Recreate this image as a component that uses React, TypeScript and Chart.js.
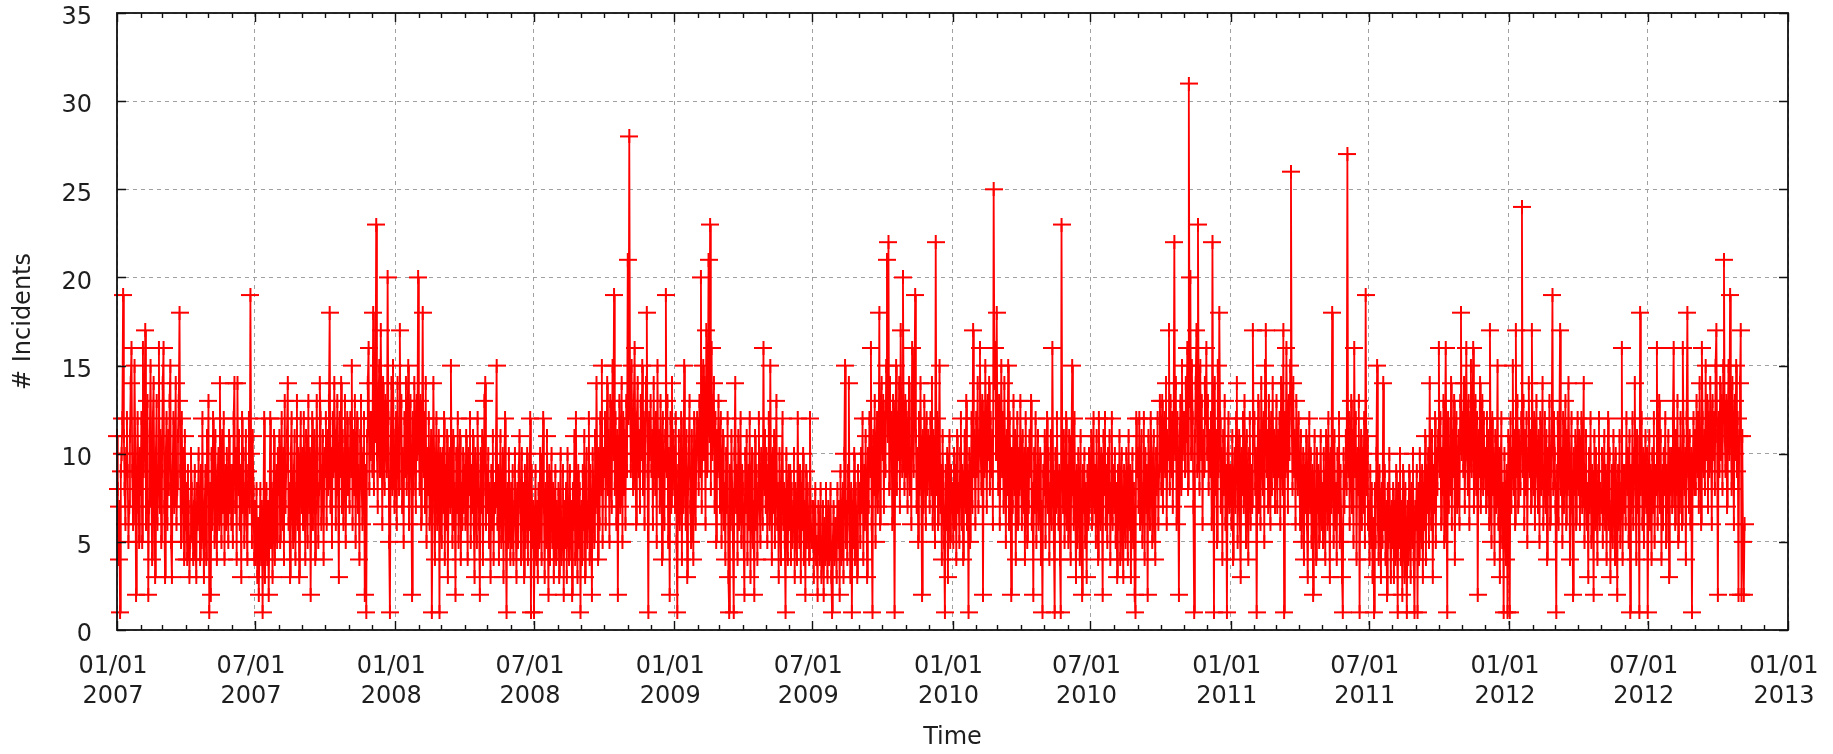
import React, { useEffect, useRef } from "react";
import { Chart, registerables } from "chart.js";

Chart.register(...registerables);

// Daily number of incidents, one value per day starting 2007-01-01 (month by month)
const incidents2007 = [
  11,8,4,7,1,9,10,12,19,11,8,6,10,12,9,5,7,11,14,16,9,6,8,15,10,2,7,12,9,5,10,
  8,12,5,16,9,11,17,6,10,13,2,7,11,15,9,4,12,14,8,3,10,13,6,9,16,7,11,5,
  9,14,16,7,3,10,12,6,11,8,13,15,5,3,9,12,7,10,14,6,8,11,13,18,9,5,12,7,10,4,11,
  6,8,4,9,7,3,5,10,8,6,4,7,9,5,3,8,6,10,7,4,9,5,12,6,3,7,9,4,11,8,
  13,1,8,2,10,6,12,9,5,11,7,4,9,10,6,14,8,5,11,7,12,4,9,6,10,8,5,11,7,9,6,
  9,5,12,14,7,10,4,14,8,11,6,9,3,12,7,10,5,8,11,6,4,9,12,7,19,10,5,11,8,4,
  7,4,8,3,6,2,5,8,4,7,1,6,12,3,5,8,4,7,2,6,12,5,8,3,7,11,4,6,9,5,10,
  8,11,5,9,12,6,10,4,13,7,9,11,14,6,8,3,10,12,7,5,9,11,4,8,13,6,10,3,9,12,7,
  10,6,12,8,4,11,9,5,13,7,10,2,8,12,6,9,11,4,7,13,10,5,8,14,12,6,9,11,4,10,
  9,12,6,11,8,13,18,7,10,5,12,9,14,11,6,10,13,8,3,12,9,14,7,11,6,10,13,5,9,12,8,
  10,7,12,9,15,6,11,8,13,5,10,12,7,9,4,11,13,8,6,10,12,2,9,1,11,14,16,8,12,10,
  12,9,18,8,14,11,23,10,7,13,15,9,17,12,6,14,10,8,13,11,9,20,12,5,1,10,14,8,15,11,7,
];

const incidents2008 = [
  9,12,6,14,10,8,17,11,13,7,10,5,12,9,14,8,11,15,6,10,13,9,2,12,8,14,11,7,13,10,20,
  11,8,13,6,10,18,9,12,7,14,5,10,8,12,6,9,11,1,7,14,10,4,9,12,6,8,11,1,10,
  8,5,10,7,12,4,9,6,11,3,8,10,7,15,9,5,11,6,8,2,10,7,12,5,9,11,4,8,6,10,7,
  9,6,11,7,4,10,8,12,5,9,7,11,6,3,10,8,5,12,9,6,2,10,7,11,4,8,13,14,6,9,
  7,10,5,8,3,9,6,11,4,8,7,10,15,6,9,4,8,11,5,7,10,3,9,12,6,1,8,5,10,7,4,
  8,5,9,4,7,10,6,3,8,5,9,11,7,4,10,6,8,3,9,5,7,10,4,8,6,12,1,9,5,7,
  1,6,9,4,7,3,8,5,10,6,4,9,12,7,3,8,5,11,6,2,9,4,7,10,5,8,3,6,9,4,7,
  5,8,3,7,10,4,6,9,2,7,5,8,3,10,6,4,9,5,7,2,8,6,11,4,12,7,3,9,5,8,1,
  7,4,9,6,11,3,8,10,5,7,12,4,9,6,2,10,8,5,11,7,14,9,4,10,6,12,8,15,5,10,
  9,12,6,10,14,8,11,5,13,9,7,15,10,19,8,12,6,11,2,9,13,7,10,14,5,12,8,11,6,13,9,
  21,12,28,14,9,15,11,8,13,16,10,6,12,14,9,11,7,13,10,15,8,12,6,11,14,18,9,1,12,10,
  13,9,11,6,14,10,8,12,5,15,9,11,7,13,10,4,12,8,6,11,19,9,13,5,10,2,12,7,14,8,11,
];

const incidents2009 = [
  10,7,12,5,1,9,11,6,8,12,4,10,7,15,9,6,11,3,8,10,13,7,5,11,9,4,12,8,6,10,12,
  11,8,13,9,20,7,12,15,10,14,6,17,9,12,21,11,23,8,16,10,13,14,7,12,5,11,9,13,
  10,7,12,5,9,11,6,8,4,10,7,12,3,1,9,6,11,8,5,1,10,14,7,9,4,11,6,8,12,5,9,
  8,5,2,10,7,11,4,9,6,12,3,8,10,5,7,2,11,6,9,4,8,12,7,5,10,9,6,16,8,11,
  7,10,5,9,12,6,15,8,4,10,7,11,5,9,13,6,8,3,10,7,4,9,12,6,8,5,1,10,7,4,9,
  6,9,4,8,5,7,10,3,8,6,4,12,7,5,9,3,8,6,10,4,7,2,9,5,8,6,4,12,7,5,
  5,7,3,6,8,4,5,2,7,6,4,8,3,5,7,2,6,4,8,5,3,7,4,6,8,3,1,5,7,4,6,
  6,3,8,5,7,2,9,4,6,8,3,10,15,5,7,4,9,14,6,3,8,1,7,5,10,4,8,6,3,9,7,
  8,5,10,7,12,4,9,6,11,8,3,10,7,12,9,16,6,1,11,8,13,5,10,12,7,9,18,6,11,14,
  10,13,7,12,9,15,21,11,22,8,14,10,12,6,13,9,1,11,15,8,12,10,14,7,17,11,9,20,12,8,13,
  9,12,7,11,14,8,10,6,16,12,9,13,19,11,7,10,5,12,8,14,9,2,11,7,13,10,6,12,8,11,
  10,7,12,8,14,6,11,9,5,22,8,12,6,10,15,7,9,4,11,8,5,1,9,6,10,3,8,11,5,9,7,
];

const incidents2010 = [
  8,5,10,6,9,4,11,7,8,5,10,12,6,9,4,8,11,7,13,6,9,1,10,5,8,12,7,17,9,11,6,
  12,9,14,7,11,16,10,8,13,2,12,9,15,11,7,13,10,14,8,12,9,11,6,25,14,16,10,18,
  11,8,13,6,10,15,9,12,7,14,10,5,11,8,15,6,12,9,2,10,7,13,8,11,4,9,12,6,10,8,13,
  9,6,11,7,10,4,12,8,5,10,7,11,9,13,6,8,2,10,7,12,5,9,11,6,8,10,4,7,1,9,
  8,11,5,9,12,7,10,4,8,11,6,16,9,5,1,10,7,12,8,6,9,4,1,23,10,7,11,5,8,12,6,
  9,5,11,7,4,10,15,8,6,12,7,3,9,5,10,8,4,11,6,2,9,7,10,5,8,3,9,6,10,7,
  8,11,6,10,12,7,9,5,11,8,4,12,9,6,10,7,2,11,8,12,6,9,5,10,7,11,4,8,12,6,9,
  7,10,5,8,3,9,6,11,4,8,10,6,3,9,7,5,10,8,4,11,6,9,3,7,10,5,8,2,1,12,9,
  10,7,12,6,9,11,5,8,12,4,10,7,9,2,11,8,6,12,10,5,9,11,7,4,10,8,12,6,9,13,
  11,8,13,7,10,12,9,14,6,11,10,17,8,13,9,12,7,11,22,10,14,6,12,9,2,11,13,8,15,10,12,
  12,9,14,11,16,8,31,13,20,10,15,12,7,1,11,14,17,9,23,12,8,15,10,13,6,11,9,14,12,16,
  10,13,8,11,9,12,6,22,10,1,14,8,11,5,15,9,18,12,7,10,4,11,8,13,6,9,1,10,12,7,9,
];

const incidents2011 = [
  9,6,11,4,8,10,7,12,14,5,9,11,6,3,10,8,12,7,13,9,5,11,8,4,10,12,6,9,7,17,11,
  12,8,10,1,9,13,7,11,6,14,10,8,12,5,15,17,9,11,7,13,10,6,12,8,14,9,11,7,
  10,13,7,11,9,12,6,14,10,8,17,1,12,9,16,11,7,13,10,15,26,12,8,14,9,11,6,13,10,8,12,
  9,6,11,5,8,10,4,9,7,11,6,3,8,12,7,10,5,9,2,8,11,6,4,10,7,9,5,8,11,6,
  8,5,10,7,4,11,9,6,12,8,3,10,7,18,9,5,11,6,8,4,10,7,12,5,9,6,3,1,10,7,9,
  11,8,27,9,12,6,10,13,7,11,5,16,9,12,4,10,8,13,1,9,11,6,10,7,12,5,19,8,11,6,
  7,4,9,5,8,3,6,1,8,5,10,15,6,4,9,7,3,8,5,14,6,9,4,7,2,8,5,10,6,3,7,
  5,8,3,7,4,9,6,1,8,5,10,4,7,2,9,6,3,8,5,1,7,4,9,6,3,8,5,10,4,1,7,
  6,9,1,8,4,10,7,5,9,3,8,6,11,4,9,7,10,5,14,8,6,11,3,9,7,12,5,10,8,11,
  16,9,12,6,10,8,13,5,11,16,9,1,12,7,10,8,14,6,11,9,13,4,10,12,7,9,11,6,13,18,10,
  12,9,14,7,11,16,10,8,13,6,12,15,9,11,16,7,10,13,8,12,2,11,9,14,7,10,13,8,12,9,
  10,7,12,8,11,6,17,9,5,12,8,10,4,11,7,9,15,6,10,3,9,12,5,8,1,10,7,4,9,1,11,
];

const incidents2012 = [
  9,1,12,7,10,15,8,11,6,17,9,13,7,11,10,8,12,24,9,13,6,11,8,12,5,10,14,9,11,7,17,
  11,8,12,6,10,13,9,7,11,5,12,8,10,14,6,9,12,7,11,4,10,8,13,6,9,11,19,8,12,
  10,7,1,9,12,6,11,17,8,10,5,12,7,9,13,6,11,8,14,10,4,9,12,7,2,10,8,11,6,9,12,
  8,11,6,9,12,7,10,14,5,9,11,6,8,3,10,7,12,5,9,8,2,11,6,10,7,4,9,12,6,8,
  7,10,5,8,11,6,9,4,8,12,6,10,3,7,9,5,11,8,4,10,7,2,9,6,11,5,8,16,4,9,7,
  9,6,12,8,10,5,11,1,9,7,12,6,10,14,8,4,11,7,9,1,18,8,12,6,10,5,9,11,7,10,
  1,8,11,6,9,4,10,7,12,5,9,8,16,6,10,13,7,11,4,9,6,10,8,12,5,9,7,11,3,10,8,
  10,7,12,16,9,6,11,8,13,5,10,7,12,9,6,16,11,8,10,4,12,18,9,7,11,6,10,1,9,12,8,
  11,8,13,9,12,7,14,10,6,16,12,9,11,8,15,10,13,7,12,9,14,11,6,13,10,12,8,15,17,11,
  2,12,9,14,10,13,8,15,21,11,9,13,7,12,15,10,19,12,8,14,11,6,13,10,15,9,12,2,11,14,17,
  2,11,5,2,6,
];

// Axis definitions (x in days since 2007-01-01)
const xMaxDay = 2192;
const majorTickDays = [0, 181, 365, 547, 731, 912, 1096, 1277, 1461, 1642, 1826, 2008, 2192];
const majorTickLabels = [
  ["01/01", "2007"], ["07/01", "2007"], ["01/01", "2008"], ["07/01", "2008"],
  ["01/01", "2009"], ["07/01", "2009"], ["01/01", "2010"], ["07/01", "2010"],
  ["01/01", "2011"], ["07/01", "2011"], ["01/01", "2012"], ["07/01", "2012"],
  ["01/01", "2013"],
];
const yTickValues = [0, 5, 10, 15, 20, 25, 30, 35];

const FONT = "'DejaVu Sans', 'Noto Sans', sans-serif";
const TEXT = "#1e1e1e";

function monthStartDays(): number[] {
  const out: number[] = [];
  const base = Date.UTC(2007, 0, 1);
  for (let y = 2007; y <= 2013; y++) {
    for (let m = 0; m < 12; m++) {
      const d = Math.round((Date.UTC(y, m, 1) - base) / 86400000);
      if (d <= xMaxDay) out.push(d);
    }
  }
  return out;
}

function makeCross(): HTMLCanvasElement {
  const c = document.createElement("canvas");
  c.width = 18;
  c.height = 14;
  const g = c.getContext("2d")!;
  g.strokeStyle = "#ff0000";
  g.lineWidth = 2;
  g.beginPath();
  g.moveTo(0, 7);
  g.lineTo(18, 7);
  g.moveTo(9, 0);
  g.lineTo(9, 14);
  g.stroke();
  return c;
}

export default function App() {
  const ref = useRef<HTMLCanvasElement | null>(null);

  useEffect(() => {
    if (!ref.current) return;
    const all = [
      ...incidents2007, ...incidents2008, ...incidents2009,
      ...incidents2010, ...incidents2011, ...incidents2012,
    ];
    const points = all.map((v, i) => ({ x: i, y: v }));
    const minorDays = monthStartDays();
    const cross = makeCross();

    const framePlugin = {
      id: "gnuFrame",
      afterDatasetsDraw(chart: any) {
        const { ctx, chartArea, scales } = chart;
        const { left, right, top, bottom } = chartArea;
        const xs = scales.x;
        const ys = scales.y;
        ctx.save();
        ctx.strokeStyle = "#111";
        ctx.lineWidth = 1.4;
        ctx.beginPath();
        minorDays.forEach((d: number) => {
          const px = Math.round(xs.getPixelForValue(d)) + 0.5;
          const len = majorTickDays.includes(d) ? 9 : 5;
          ctx.moveTo(px, bottom);
          ctx.lineTo(px, bottom - len);
          ctx.moveTo(px, top);
          ctx.lineTo(px, top + len);
        });
        yTickValues.forEach((v) => {
          const py = Math.round(ys.getPixelForValue(v)) + 0.5;
          ctx.moveTo(left, py);
          ctx.lineTo(left + 9, py);
          ctx.moveTo(right, py);
          ctx.lineTo(right - 9, py);
        });
        ctx.stroke();
        ctx.lineWidth = 1.8;
        ctx.strokeRect(left, top, right - left, bottom - top);
        ctx.restore();
      },
    };

    const noPad = (s: any) => {
      s.paddingTop = 0;
      s.paddingBottom = 0;
      s.paddingLeft = 0;
      s.paddingRight = 0;
    };

    const chart = new Chart(ref.current, {
      type: "line",
      data: {
        datasets: [
          {
            data: points,
            borderColor: "#ff0000",
            borderWidth: 1.8,
            pointStyle: cross as any,
            pointRadius: 4,
            pointHoverRadius: 4,
            tension: 0,
            fill: false,
            clip: false as any,
          },
        ],
      },
      options: {
        animation: false,
        responsive: true,
        maintainAspectRatio: false,
        events: [],
        layout: { padding: { left: 0, right: 45, top: 13, bottom: 0 } },
        plugins: {
          legend: { display: false },
          tooltip: { enabled: false },
        },
        scales: {
          x: {
            type: "linear",
            min: 0,
            max: xMaxDay,
            afterFit: (s: any) => {
              s.height = 124;
              noPad(s);
            },
            afterBuildTicks: (s: any) => {
              s.ticks = majorTickDays.map((v) => ({ value: v }));
            },
            grid: { color: "#a0a0a0", lineWidth: 1, drawTicks: false },
            border: { display: false, dash: [4, 4] },
            ticks: {
              autoSkip: false,
              maxRotation: 0,
              minRotation: 0,
              padding: 22,
              labelOffset: -4,
              color: TEXT,
              font: { family: FONT, size: 24, lineHeight: 1.25 },
              callback: (value: any) => {
                const idx = majorTickDays.indexOf(Number(value));
                return idx >= 0 ? majorTickLabels[idx] : "";
              },
            },
            title: {
              display: true,
              text: "Time",
              color: TEXT,
              font: { family: FONT, size: 24 },
              padding: { top: 0, bottom: 2 },
            },
          },
          y: {
            min: 0,
            max: 35,
            afterFit: (s: any) => {
              s.width = 117;
              noPad(s);
            },
            afterBuildTicks: (s: any) => {
              s.ticks = yTickValues.map((v) => ({ value: v }));
            },
            grid: { color: "#a0a0a0", lineWidth: 1, drawTicks: false },
            border: { display: false, dash: [4, 4] },
            ticks: {
              padding: 25,
              labelOffset: 5,
              color: TEXT,
              font: { family: FONT, size: 24 },
              callback: (value: any) => String(value),
            },
            title: {
              display: true,
              text: "# Incidents",
              color: TEXT,
              font: { family: FONT, size: 24 },
              padding: { top: 9, bottom: 0 },
            },
          },
        },
      },
      plugins: [framePlugin],
    });

    return () => {
      chart.destroy();
    };
  }, []);

  return (
    <div style={{ position: "absolute", left: 0, top: 0, width: 1833, height: 754, background: "#fff" }}>
      <canvas ref={ref} />
    </div>
  );
}
